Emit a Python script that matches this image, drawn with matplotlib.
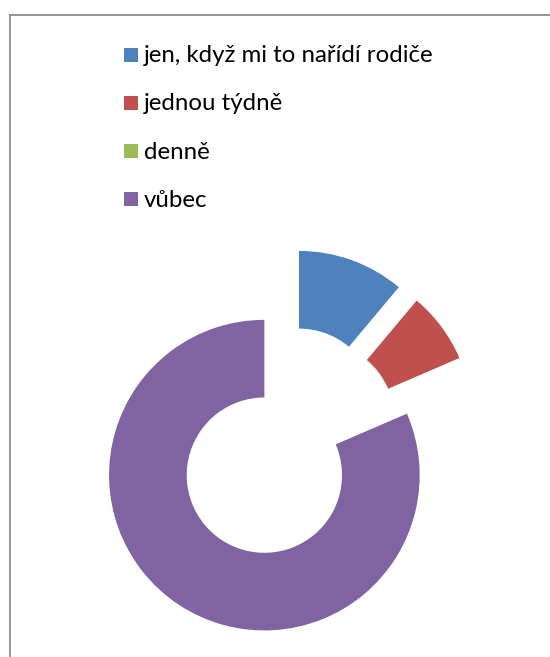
import matplotlib
matplotlib.use("Agg")
import matplotlib.pyplot as plt
from matplotlib.patches import Rectangle
from matplotlib.lines import Line2D

# How often pupils do the activity (counts of answers)
labels = ["jen, když mi to nařídí rodiče", "jednou týdně", "denně", "vůbec"]
values = [3, 2, 0, 22]
colors = ["#4F81BD", "#C0504D", "#9BBB59", "#8064A2"]

W, H = 550, 657
DPI = 100
fig = plt.figure(figsize=(W / DPI, H / DPI), dpi=DPI)
fig.patch.set_facecolor("white")

# Donut geometry in pixels
cx, cy = 285.7, 442.7      # centre (from top-left)
R = 155.3                  # outer radius

ax = fig.add_axes([0, 0, 1, 1])
ax.pie(values, colors=colors, startangle=90, counterclock=False,
       radius=1.0, explode=[0.25] * len(values),
       wedgeprops=dict(width=0.5, linewidth=0, edgecolor="none"))
ax.set_aspect("auto")
ax.set_xlim(-cx / R, (W - cx) / R)
ax.set_ylim((cy - H) / R, cy / R)
ax.axis("off")

# Chart frame (only top and left edges fall inside the image)
fx, fy = 9.5, 15.0
fig.add_artist(Line2D([fx / W, fx / W], [0, 1 - fy / H], color="#8c8c8c",
                      linewidth=1.3, transform=fig.transFigure))
fig.add_artist(Line2D([fx / W, 1], [1 - fy / H, 1 - fy / H], color="#8c8c8c",
                      linewidth=1.3, transform=fig.transFigure))

# Legend
sq = 14.0
x_sq = 123.5
x_txt = 144.0
y0, dy = 54.5, 48.3
for i, (lab, col) in enumerate(zip(labels, colors)):
    yc = y0 + i * dy
    fig.add_artist(Rectangle((x_sq / W, 1 - (yc + sq / 2) / H), sq / W, sq / H,
                             facecolor=col, edgecolor="none",
                             transform=fig.transFigure))
    fig.text(x_txt / W, 1 - (yc + 1) / H, lab, fontsize=17.3, family="Lato",
             color="#000000", va="center", ha="left")

fig.savefig("out.png", dpi=DPI, facecolor="white")
